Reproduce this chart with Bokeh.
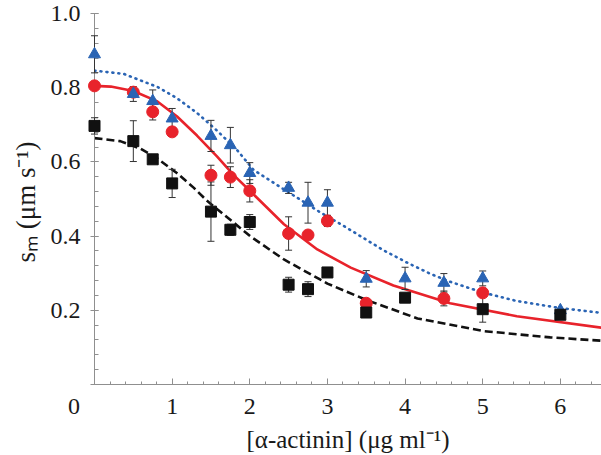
from bokeh.plotting import figure
from bokeh.models import (Range1d, SingleIntervalTicker, Title, PrintfTickFormatter)
from bokeh.embed import file_html
from bokeh.resources import INLINE

# ---- data ----
blue_x = [0, 0.5, 0.75, 1.0, 1.5, 1.75, 2.0, 2.5, 2.75, 3.0, 3.5, 4.0, 4.5, 5.0, 6.0]
blue_y = [0.89, 0.783, 0.764, 0.717, 0.67, 0.645, 0.57, 0.53, 0.49, 0.49, 0.285, 0.286, 0.274, 0.286, 0.20]
blue_err = [0.05, 0.02, 0.03, 0.027, 0.042, 0.048, 0.028, 0.015, 0.055, 0.035, 0.022, 0.03, 0.025, 0.02, 0.0]

red_x = [0, 0.5, 0.75, 1.0, 1.5, 1.75, 2.0, 2.5, 2.75, 3.0, 3.5, 4.5, 5.0]
red_y = [0.805, 0.788, 0.735, 0.681, 0.564, 0.559, 0.522, 0.407, 0.403, 0.441, 0.219, 0.232, 0.247]
red_err = [0.0, 0.01, 0.022, 0.012, 0.027, 0.028, 0.03, 0.045, 0.0, 0.015, 0.0, 0.02, 0.0]

black_x = [0, 0.5, 0.75, 1.0, 1.5, 1.75, 2.0, 2.5, 2.75, 3.0, 3.5, 4.0, 5.0, 6.0]
black_y = [0.697, 0.656, 0.607, 0.542, 0.466, 0.417, 0.438, 0.269, 0.257, 0.302, 0.194, 0.234, 0.203, 0.188]
black_err = [0.022, 0.055, 0.01, 0.038, 0.08, 0.015, 0.02, 0.02, 0.02, 0.0, 0.0, 0.0, 0.035, 0.0]

blue_fit_x = [0, 0.38, 0.81, 1.06, 1.32, 1.58, 1.84, 2.05, 2.44, 2.87, 3.30, 3.72, 4.03, 4.33, 4.58, 5.0, 5.44, 6.0, 6.53]
blue_fit_y = [0.846, 0.837, 0.802, 0.772, 0.732, 0.684, 0.631, 0.578, 0.526, 0.469, 0.416, 0.362, 0.328, 0.298, 0.277, 0.248, 0.225, 0.206, 0.193]

red_fit_x = [0, 0.21, 0.5, 0.81, 1.06, 1.32, 1.58, 1.79, 2.05, 2.44, 2.87, 3.30, 3.85, 4.58, 5.44, 6.53]
red_fit_y = [0.805, 0.803, 0.791, 0.763, 0.723, 0.671, 0.614, 0.565, 0.512, 0.432, 0.364, 0.315, 0.267, 0.219, 0.184, 0.153]

black_fit_x = [0, 0.33, 0.59, 0.81, 1.06, 1.28, 1.45, 2.01, 2.44, 3.0, 3.5, 4.16, 5.01, 5.87, 6.53]
black_fit_y = [0.664, 0.656, 0.636, 0.609, 0.57, 0.53, 0.495, 0.399, 0.337, 0.272, 0.228, 0.178, 0.144, 0.127, 0.118]

x_title = "[α-actinin] (μg ml⁻¹)"
y_title = "sₘ (μm s⁻¹)"

BLUE = "#2a64b4"
RED = "#e8232b"
BLACK = "#111111"
AXIS = "#8f8f8f"
ERR = "#333333"
FONT = "Liberation Serif"

p = figure(width=601, height=455, output_backend="svg", toolbar_location=None,
           x_range=Range1d(0, 6.53), y_range=Range1d(0, 1.0),
           min_border_left=94, min_border_right=0, min_border_top=13,
           min_border_bottom=63)
p.outline_line_color = None
p.grid.visible = False
p.background_fill_color = "white"
p.border_fill_color = "white"

# axes
xa = p.xaxis[0]
xa.ticker = SingleIntervalTicker(interval=1, num_minor_ticks=5)
xa.major_label_overrides = {0: "0\u2003\u2002\u2009"}
ya = p.yaxis[0]
ya.ticker = SingleIntervalTicker(interval=0.2, num_minor_ticks=5)
ya.formatter = PrintfTickFormatter(format="%.1f")
ya.major_label_overrides = {0: ""}
for ax in (xa, ya):
    ax.axis_line_color = AXIS
    ax.major_tick_line_color = AXIS
    ax.minor_tick_line_color = AXIS
    ax.major_label_text_font = FONT
    ax.major_label_text_font_size = "24px"
    ax.major_label_text_color = "#1a1a1a"
    ax.axis_label_text_font = FONT
    ax.axis_label_text_font_size = "25px"
    ax.axis_label_text_font_style = "normal"
    ax.axis_label_text_color = "#1a1a1a"
xa.major_tick_in = 6
xa.major_tick_out = 0
xa.minor_tick_in = 3
xa.minor_tick_out = 0
xa.major_label_standoff = 8
xa.axis_label = x_title
xa.axis_label_standoff = 4
ya.major_tick_in = 4
ya.major_tick_out = 4
ya.minor_tick_in = 4
ya.minor_tick_out = 0
ya.major_label_standoff = 10

# y title in the left side panel (outside the frame, not clipped)
p.add_layout(Title(text=y_title, align="right", offset=128, standoff=13,
                   text_font=FONT, text_font_size="27px",
                   text_font_style="normal", text_color="#1a1a1a"), "left")

# fitted curves
p.line(black_fit_x, black_fit_y, line_color=BLACK, line_width=2.6, line_dash="8 4")
p.line(red_fit_x, red_fit_y, line_color=RED, line_width=2.6)
p.line(blue_fit_x, blue_fit_y, line_color=BLUE, line_width=2.6, line_dash="1 5",
       line_cap="round")

# error bars (drawn as glyphs so the ones on the axis are not clipped)
def add_err(xs, ys, es):
    keep = [(x, y, e) for x, y, e in zip(xs, ys, es) if e > 0]
    bx = [k[0] for k in keep]
    lo = [k[1] - k[2] for k in keep]
    hi = [k[1] + k[2] for k in keep]
    p.segment(bx, lo, bx, hi, line_color=ERR, line_width=1, level="overlay")
    p.scatter(bx + bx, lo + hi, marker="dash", size=7, line_color=ERR, line_width=1,
              level="overlay")

add_err(red_x, red_y, red_err)
add_err(blue_x, blue_y, blue_err)
add_err(black_x, black_y, black_err)

# markers
p.scatter(red_x, red_y, marker="circle", size=12, fill_color=RED, line_color=RED,
          level="overlay")
p.scatter(blue_x, blue_y, marker="triangle", size=12, fill_color=BLUE, line_color=BLUE,
          level="overlay")
p.scatter(black_x, black_y, marker="square", size=11, fill_color=BLACK, line_color=BLACK,
          level="overlay")

open("out.html", "w").write(file_html(p, INLINE))
